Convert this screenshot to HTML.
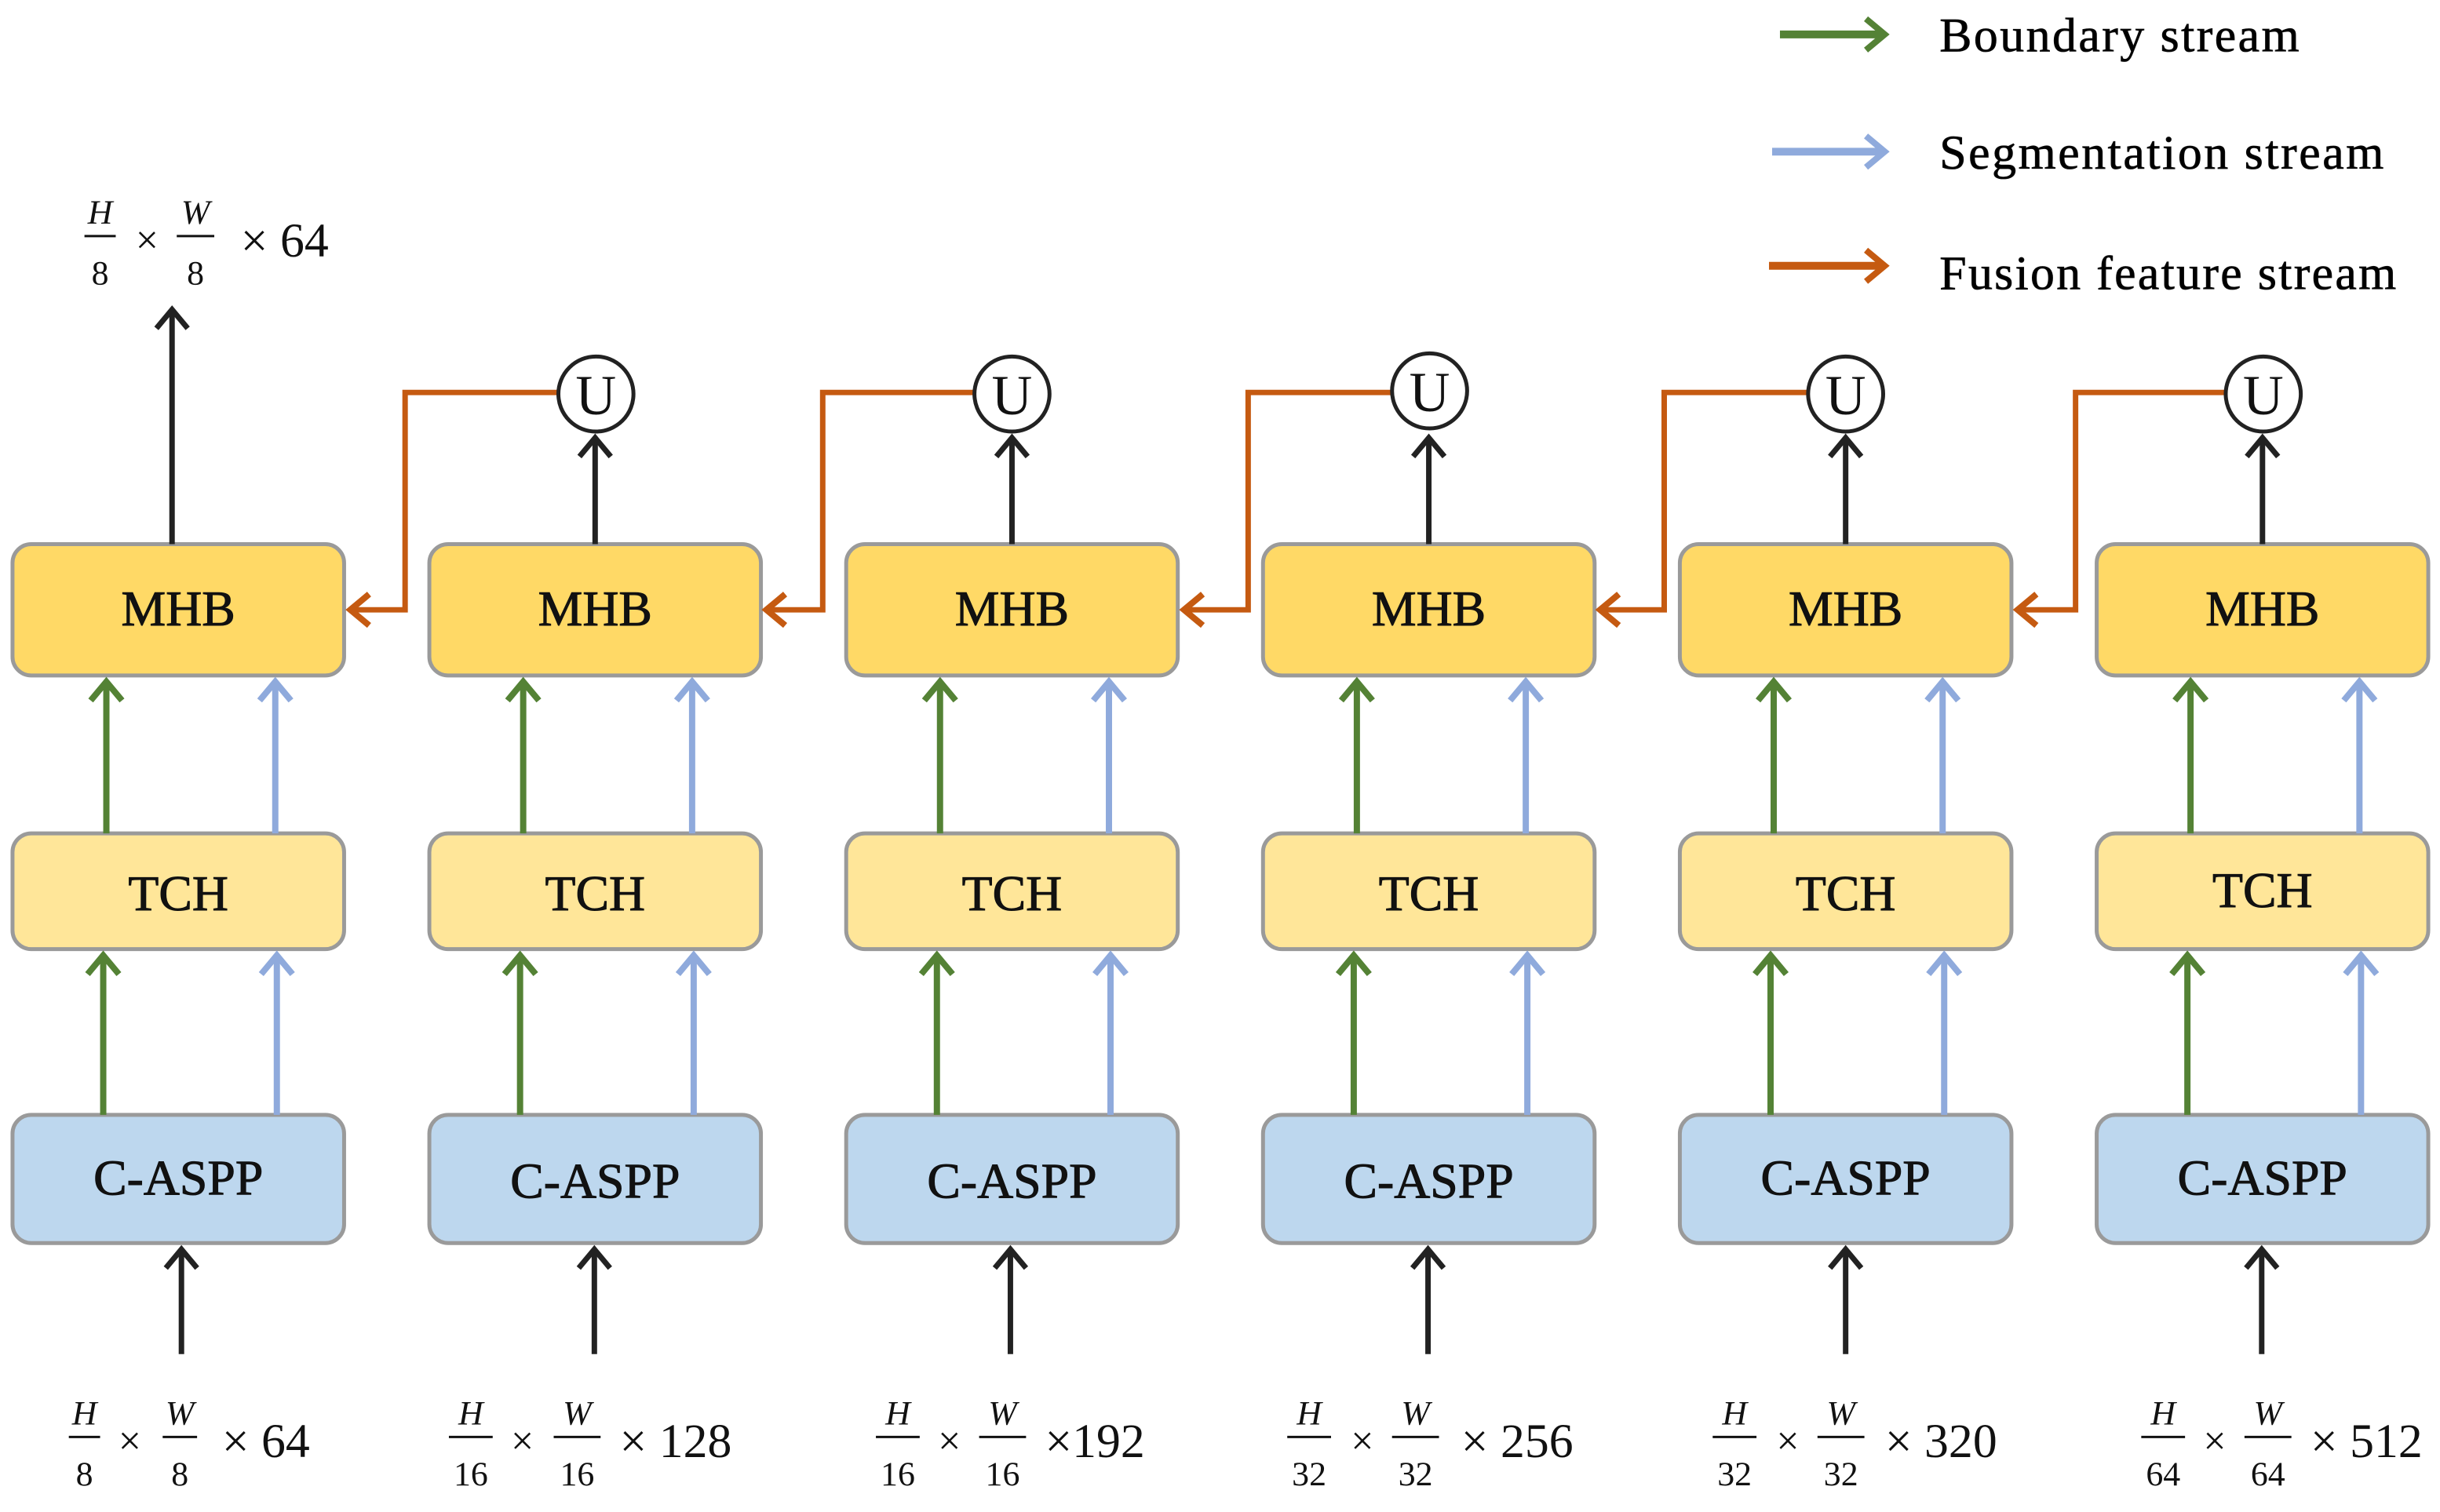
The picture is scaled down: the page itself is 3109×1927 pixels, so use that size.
<!DOCTYPE html>
<html><head><meta charset="utf-8"><style>html,body{margin:0;padding:0;background:#fff}svg{display:block}</style></head><body>
<svg width="3109" height="1927" viewBox="0 0 1560 967" preserveAspectRatio="none" xmlns="http://www.w3.org/2000/svg" font-family="Liberation Serif, serif">
<defs>
<marker id="mg" markerUnits="userSpaceOnUse" markerWidth="30" markerHeight="30" refX="14" refY="12" orient="auto" viewBox="0 0 30 24"><polyline points="2,2 14,12 2,22" fill="none" stroke="#548235" stroke-width="4"/></marker>
<marker id="mb" markerUnits="userSpaceOnUse" markerWidth="30" markerHeight="30" refX="14" refY="12" orient="auto" viewBox="0 0 30 24"><polyline points="2,2 14,12 2,22" fill="none" stroke="#8FAADC" stroke-width="4"/></marker>
<marker id="mo" markerUnits="userSpaceOnUse" markerWidth="30" markerHeight="30" refX="14" refY="12" orient="auto" viewBox="0 0 30 24"><polyline points="2,2 14,12 2,22" fill="none" stroke="#C55A11" stroke-width="4"/></marker>
<marker id="mk" markerUnits="userSpaceOnUse" markerWidth="30" markerHeight="30" refX="14" refY="12" orient="auto" viewBox="0 0 30 24"><polyline points="2,2 14,12 2,22" fill="none" stroke="#222" stroke-width="3.5"/></marker>
</defs>

<line x1="1138" y1="22" x2="1205" y2="22" stroke="#548235" stroke-width="5" marker-end="url(#mg)"/>
<line x1="1133" y1="97" x2="1205" y2="97" stroke="#8FAADC" stroke-width="5" marker-end="url(#mb)"/>
<line x1="1131" y1="170" x2="1205" y2="170" stroke="#C55A11" stroke-width="5" marker-end="url(#mo)"/>
<g font-size="31" stroke="#111" stroke-width="0.4">
<text x="1240" y="33" textLength="230">Boundary stream</text>
<text x="1240" y="108" textLength="284">Segmentation stream</text>
<text x="1240" y="185" textLength="292">Fusion feature stream</text>
</g>

<g stroke="#9a9a9a" stroke-width="2.5">
<g fill="#FFD966">
<rect x="8" y="348" width="212" height="84" rx="12"/><rect x="274.5" y="348" width="212" height="84" rx="12"/><rect x="541" y="348" width="212" height="84" rx="12"/><rect x="807.5" y="348" width="212" height="84" rx="12"/><rect x="1074" y="348" width="212" height="84" rx="12"/><rect x="1340.5" y="348" width="212" height="84" rx="12"/>
</g>
<g fill="#FFE699">
<rect x="8" y="533" width="212" height="74" rx="12"/><rect x="274.5" y="533" width="212" height="74" rx="12"/><rect x="541" y="533" width="212" height="74" rx="12"/><rect x="807.5" y="533" width="212" height="74" rx="12"/><rect x="1074" y="533" width="212" height="74" rx="12"/><rect x="1340.5" y="533" width="212" height="74" rx="12"/>
</g>
<g fill="#BDD7EE">
<rect x="8" y="713" width="212" height="82" rx="12"/><rect x="274.5" y="713" width="212" height="82" rx="12"/><rect x="541" y="713" width="212" height="82" rx="12"/><rect x="807.5" y="713" width="212" height="82" rx="12"/><rect x="1074" y="713" width="212" height="82" rx="12"/><rect x="1340.5" y="713" width="212" height="82" rx="12"/>
</g>
</g>
<g font-size="32" text-anchor="middle" fill="#111" stroke="#111" stroke-width="0.5">
<text x="114" y="400">MHB</text><text x="380.5" y="400">MHB</text><text x="647" y="400">MHB</text><text x="913.5" y="400">MHB</text><text x="1180" y="400">MHB</text><text x="1446.5" y="400">MHB</text>
<text x="114" y="582">TCH</text><text x="380.5" y="582">TCH</text><text x="647" y="582">TCH</text><text x="913.5" y="582">TCH</text><text x="1180" y="582">TCH</text><text x="1446.5" y="580">TCH</text>
<text x="114" y="764">C-ASPP</text><text x="380.5" y="766">C-ASPP</text><text x="647" y="766">C-ASPP</text><text x="913.5" y="766">C-ASPP</text><text x="1180" y="764">C-ASPP</text><text x="1446.5" y="764">C-ASPP</text>
</g>

<g stroke="#548235" stroke-width="4" marker-end="url(#mg)">
<line x1="68" y1="533" x2="68" y2="436"/><line x1="66" y1="713" x2="66" y2="611"/>
<line x1="334.5" y1="533" x2="334.5" y2="436"/><line x1="332.5" y1="713" x2="332.5" y2="611"/>
<line x1="601" y1="533" x2="601" y2="436"/><line x1="599" y1="713" x2="599" y2="611"/>
<line x1="867.5" y1="533" x2="867.5" y2="436"/><line x1="865.5" y1="713" x2="865.5" y2="611"/>
<line x1="1134" y1="533" x2="1134" y2="436"/><line x1="1132" y1="713" x2="1132" y2="611"/>
<line x1="1400.5" y1="533" x2="1400.5" y2="436"/><line x1="1398.5" y1="713" x2="1398.5" y2="611"/>
</g>
<g stroke="#8FAADC" stroke-width="4" marker-end="url(#mb)">
<line x1="176" y1="533" x2="176" y2="436"/><line x1="177" y1="713" x2="177" y2="611"/>
<line x1="442.5" y1="533" x2="442.5" y2="436"/><line x1="443.5" y1="713" x2="443.5" y2="611"/>
<line x1="709" y1="533" x2="709" y2="436"/><line x1="710" y1="713" x2="710" y2="611"/>
<line x1="975.5" y1="533" x2="975.5" y2="436"/><line x1="976.5" y1="713" x2="976.5" y2="611"/>
<line x1="1242" y1="533" x2="1242" y2="436"/><line x1="1243" y1="713" x2="1243" y2="611"/>
<line x1="1508.5" y1="533" x2="1508.5" y2="436"/><line x1="1509.5" y1="713" x2="1509.5" y2="611"/>
</g>

<g stroke="#222" stroke-width="3.5" marker-end="url(#mk)">
<line x1="110" y1="348" x2="110" y2="198"/>
<line x1="380.5" y1="348" x2="380.5" y2="280"/><line x1="647" y1="348" x2="647" y2="280"/><line x1="913.5" y1="348" x2="913.5" y2="280"/><line x1="1180" y1="348" x2="1180" y2="280"/><line x1="1446.5" y1="348" x2="1446.5" y2="280"/>
<line x1="116" y1="866" x2="116" y2="799"/><line x1="380" y1="866" x2="380" y2="799"/><line x1="646" y1="866" x2="646" y2="799"/><line x1="913" y1="866" x2="913" y2="799"/><line x1="1180" y1="866" x2="1180" y2="799"/><line x1="1446" y1="866" x2="1446" y2="799"/>
</g>

<g stroke="#C55A11" stroke-width="3.5" fill="none" marker-end="url(#mo)">
<polyline points="357,251 259,251 259,390 224,390"/>
<polyline points="623,251 526,251 526,390 490,390"/>
<polyline points="890,251 798,251 798,390 757,390"/>
<polyline points="1156,251 1064,251 1064,390 1023,390"/>
<polyline points="1423,251 1327,251 1327,390 1290,390"/>
</g>
<g stroke="#222" stroke-width="2.5" fill="#fff">
<ellipse cx="381" cy="252" rx="24" ry="24"/><ellipse cx="647" cy="252" rx="24" ry="24"/><ellipse cx="914" cy="250" rx="24" ry="24"/><ellipse cx="1180" cy="252" rx="24" ry="24"/><ellipse cx="1447" cy="252" rx="24" ry="24"/>
</g>
<g font-size="36" text-anchor="middle" fill="#111">
<text x="381" y="265">U</text><text x="647" y="265">U</text><text x="914" y="263">U</text><text x="1180" y="265">U</text><text x="1447" y="265">U</text>
</g>

<g fill="#111" font-size="22" text-anchor="middle">
<text x="64" y="143" font-style="italic">H</text><line x1="54" y1="151" x2="74" y2="151" stroke="#111" stroke-width="1.5"/><text x="64" y="182">8</text>
<text x="94" y="162" font-size="26">×</text>
<text x="125" y="143" font-style="italic">W</text><line x1="113" y1="151" x2="137" y2="151" stroke="#111" stroke-width="1.5"/><text x="125" y="182">8</text>
<text x="182" y="164" font-size="31">× 64</text>
</g>
<g fill="#111" font-size="22" text-anchor="middle" stroke-width="1.5">
<text x="54" y="911" font-style="italic">H</text><line x1="44" y1="919" x2="64" y2="919" stroke="#111"/><text x="54" y="950">8</text>
<text x="83" y="930" font-size="26">×</text>
<text x="115" y="911" font-style="italic">W</text><line x1="104" y1="919" x2="126" y2="919" stroke="#111"/><text x="115" y="950">8</text>
<text x="170" y="932" font-size="31">× 64</text>
<text x="301" y="911" font-style="italic">H</text><line x1="287" y1="919" x2="315" y2="919" stroke="#111"/><text x="301" y="950">16</text>
<text x="334" y="930" font-size="26">×</text>
<text x="369" y="911" font-style="italic">W</text><line x1="354" y1="919" x2="384" y2="919" stroke="#111"/><text x="369" y="950">16</text>
<text x="432" y="932" font-size="31">× 128</text>
<text x="574" y="911" font-style="italic">H</text><line x1="560" y1="919" x2="588" y2="919" stroke="#111"/><text x="574" y="950">16</text>
<text x="607" y="930" font-size="26">×</text>
<text x="641" y="911" font-style="italic">W</text><line x1="626" y1="919" x2="656" y2="919" stroke="#111"/><text x="641" y="950">16</text>
<text x="700" y="932" font-size="31">×192</text>
<text x="837" y="911" font-style="italic">H</text><line x1="823" y1="919" x2="851" y2="919" stroke="#111"/><text x="837" y="950">32</text>
<text x="871" y="930" font-size="26">×</text>
<text x="905" y="911" font-style="italic">W</text><line x1="890" y1="919" x2="920" y2="919" stroke="#111"/><text x="905" y="950">32</text>
<text x="970" y="932" font-size="31">× 256</text>
<text x="1109" y="911" font-style="italic">H</text><line x1="1095" y1="919" x2="1123" y2="919" stroke="#111"/><text x="1109" y="950">32</text>
<text x="1143" y="930" font-size="26">×</text>
<text x="1177" y="911" font-style="italic">W</text><line x1="1162" y1="919" x2="1192" y2="919" stroke="#111"/><text x="1177" y="950">32</text>
<text x="1241" y="932" font-size="31">× 320</text>
<text x="1383" y="911" font-style="italic">H</text><line x1="1369" y1="919" x2="1397" y2="919" stroke="#111"/><text x="1383" y="950">64</text>
<text x="1416" y="930" font-size="26">×</text>
<text x="1450" y="911" font-style="italic">W</text><line x1="1435" y1="919" x2="1465" y2="919" stroke="#111"/><text x="1450" y="950">64</text>
<text x="1513" y="932" font-size="31">× 512</text>
</g>
</svg>
</body></html>
